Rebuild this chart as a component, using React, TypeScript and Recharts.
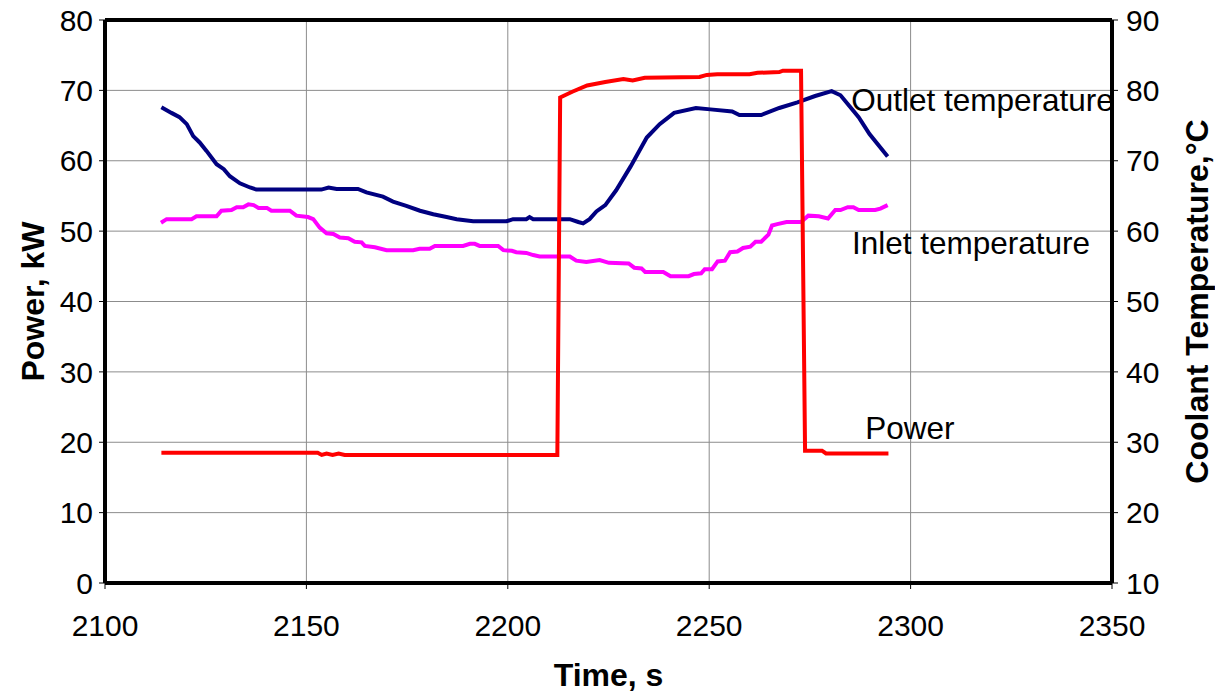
import {
  LineChart,
  Line,
  XAxis,
  YAxis,
  CartesianGrid,
  ReferenceLine,
  ReferenceDot,
} from 'recharts';

const FONT = '"Liberation Sans", Arial, sans-serif';

// ticks
const timeTicks = [2100, 2150, 2200, 2250, 2300, 2350];
const powerTicks = [0, 10, 20, 30, 40, 50, 60, 70, 80];
const tempTicks = [10, 20, 30, 40, 50, 60, 70, 80, 90];

// Power, kW (left axis)
const powerTime = [
  2114, 2152.8, 2153.8, 2155, 2156.5, 2158, 2159.5, 2212.3, 2213, 2216, 2219.7, 2224.2, 2228.7,
  2231, 2234, 2247.6, 2249.4, 2252, 2260, 2262, 2267.4, 2268.3, 2272.8, 2273.8, 2278, 2279,
  2294.5,
];
const powerKw = [
  18.5, 18.5, 18.2, 18.4, 18.2, 18.4, 18.2, 18.2, 69.0, 69.8, 70.7, 71.2, 71.6, 71.4, 71.8, 71.9,
  72.2, 72.3, 72.3, 72.5, 72.6, 72.8, 72.8, 18.8, 18.8, 18.4, 18.4,
];

// Outlet temperature, °C (right axis)
const outletTime = [
  2114, 2116.5, 2118.5, 2120.3, 2121.9, 2123.5, 2125.2, 2127.7, 2129.5, 2131, 2133.5, 2136,
  2137.6, 2153.7, 2155.5, 2157.5, 2162.8, 2164.9, 2169, 2171.5, 2174.8, 2178.2, 2181.5, 2184.8,
  2187.3, 2191.4, 2199.7, 2201.3, 2204.6, 2205.4, 2206.3, 2215.4, 2217.5, 2218.7, 2220.3, 2222,
  2224.2, 2226.9, 2230.5, 2234.5, 2237.7, 2241.3, 2246.7, 2250.3, 2255.7, 2257.5, 2262.9,
  2267.4, 2271.9, 2276.3, 2280.4, 2282.6, 2287.1, 2289.8, 2294.3,
];
const outletC = [
  77.6, 76.8, 76.2, 75.2, 73.5, 72.6, 71.4, 69.5, 68.8, 67.8, 66.8, 66.2, 65.9, 65.9, 66.2, 66.0,
  66.0, 65.5, 64.9, 64.2, 63.6, 62.9, 62.4, 62.0, 61.7, 61.4, 61.4, 61.7, 61.7, 62.0, 61.7, 61.7,
  61.3, 61.1, 61.7, 62.8, 63.7, 65.8, 69.2, 73.3, 75.2, 76.8, 77.5, 77.3, 77.0, 76.5, 76.5, 77.5,
  78.3, 79.2, 79.9, 79.3, 76.2, 73.8, 70.6,
];

// Inlet temperature, °C (right axis)
const inletTime = [
  2113.9, 2115.3, 2121.5, 2122.7, 2127.7, 2128.9, 2131.4, 2132.7, 2134.3, 2135.6, 2136.9, 2138.1,
  2140.2, 2141.3, 2145.9, 2147.5, 2150.4, 2151.7, 2153.3, 2155, 2156.7, 2158.3, 2160.4, 2162,
  2163.7, 2164.5, 2167, 2169.9, 2176.5, 2178.1, 2180.6, 2181.9, 2188.9, 2190.6, 2191.8, 2193,
  2197.6, 2198.9, 2201, 2202.1, 2204.6, 2206.3, 2207.9, 2215.4, 2217, 2219.5, 2222.8, 2225.1,
  2230, 2231.4, 2233.2, 2234.1, 2238.6, 2240.4, 2244.9, 2246.2, 2248, 2248.9, 2250.7, 2252.1,
  2253.9, 2255.2, 2257, 2258.4, 2260.2, 2261.5, 2262.9, 2264.7, 2265.6, 2266.9, 2269.2, 2272.8,
  2274.6, 2277.2, 2279.5, 2281.3, 2282.6, 2284.4, 2285.8, 2287.1, 2291.2, 2292.5, 2294.3,
];
const inletC = [
  61.2, 61.7, 61.7, 62.1, 62.1, 62.9, 63.0, 63.4, 63.4, 63.8, 63.7, 63.3, 63.3, 62.9, 62.9, 62.2,
  62.0, 61.7, 60.5, 59.7, 59.6, 59.1, 59.0, 58.5, 58.4, 57.9, 57.7, 57.3, 57.3, 57.5, 57.5, 57.9,
  57.9, 58.2, 58.2, 57.9, 57.9, 57.3, 57.2, 57.0, 56.9, 56.6, 56.4, 56.4, 55.8, 55.6, 55.9, 55.5,
  55.4, 54.8, 54.7, 54.2, 54.2, 53.6, 53.6, 53.9, 54.0, 54.6, 54.6, 55.7, 55.8, 57.0, 57.1, 57.6,
  57.8, 58.5, 58.5, 59.5, 60.8, 61.0, 61.3, 61.3, 62.2, 62.1, 61.8, 63.0, 63.0, 63.4, 63.4, 63.0,
  63.0, 63.2, 63.7,
];

const powerData = powerTime.map((t, i) => ({ t, v: powerKw[i] }));
const outletData = outletTime.map((t, i) => ({ t, v: outletC[i] }));
const inletData = inletTime.map((t, i) => ({ t, v: inletC[i] }));

// on-chart series names
const notes = [
  { text: 'Outlet temperature', t: 2285.5, kw: 68.6 },
  { text: 'Inlet temperature', t: 2285.7, kw: 48.3 },
  { text: 'Power', t: 2289, kw: 22.0 },
];

const tickStyle = { fontSize: 30, fill: '#000', fontFamily: FONT };
const titleStyle = { fontSize: 32, fontWeight: 'bold', fill: '#000', fontFamily: FONT };

export default function App() {
  return (
    <div style={{ position: 'absolute', left: 0, top: 0, background: '#fff' }}>
      <LineChart width={1215} height={692} margin={{ top: 20, right: 0, left: 0, bottom: 0 }}>
        <CartesianGrid
          yAxisId="left"
          stroke="#8c8c8c"
          strokeWidth={1}
          verticalValues={timeTicks}
          horizontalValues={powerTicks}
        />
        <XAxis
          dataKey="t"
          type="number"
          domain={[2100, 2350]}
          ticks={timeTicks}
          allowDataOverflow
          height={109}
          axisLine={{ stroke: '#000', strokeWidth: 4 }}
          tickLine={{ stroke: '#000' }}
          tickSize={6}
          tickMargin={26}
          tick={tickStyle}
          label={{ value: 'Time, s', position: 'insideBottom', offset: 6, style: titleStyle }}
        />
        <YAxis
          yAxisId="left"
          domain={[0, 80]}
          ticks={powerTicks}
          width={105}
          axisLine={{ stroke: '#000', strokeWidth: 4 }}
          tickLine={{ stroke: '#000' }}
          tickSize={6}
          tickMargin={6}
          tick={tickStyle}
          label={{ value: 'Power, kW', angle: -90, position: 'center', dx: -20, style: titleStyle }}
        />
        <YAxis
          yAxisId="right"
          orientation="right"
          domain={[10, 90]}
          ticks={tempTicks}
          width={103}
          axisLine={{ stroke: '#000', strokeWidth: 4 }}
          tickLine={{ stroke: '#000' }}
          tickSize={6}
          tickMargin={8}
          tick={tickStyle}
          label={{
            value: 'Coolant Temperature,°C',
            angle: -90,
            position: 'center',
            dx: 33,
            style: titleStyle,
          }}
        />
        <ReferenceLine yAxisId="left" y={80} stroke="#000" strokeWidth={4} />

        <Line
          yAxisId="right"
          data={inletData}
          dataKey="v"
          type="linear"
          stroke="#ff00ff"
          strokeWidth={4}
          dot={false}
          isAnimationActive={false}
        />
        <Line
          yAxisId="right"
          data={outletData}
          dataKey="v"
          type="linear"
          stroke="#000080"
          strokeWidth={4}
          dot={false}
          isAnimationActive={false}
        />
        <Line
          yAxisId="left"
          data={powerData}
          dataKey="v"
          type="linear"
          stroke="#ff0000"
          strokeWidth={4}
          dot={false}
          isAnimationActive={false}
        />

        {notes.map((n) => (
          <ReferenceDot
            key={n.text}
            yAxisId="left"
            x={n.t}
            y={n.kw}
            r={1}
            fill="none"
            stroke="none"
            ifOverflow="visible"
            label={(props: any) => {
              const vb = props.viewBox || {};
              return (
                <text
                  x={vb.x}
                  y={vb.y + (vb.height || 0) / 2}
                  dominantBaseline="central"
                  textAnchor="start"
                  fontSize={31.5}
                  fontFamily={FONT}
                  fill="#000"
                >
                  {n.text}
                </text>
              );
            }}
          />
        ))}
      </LineChart>
    </div>
  );
}
